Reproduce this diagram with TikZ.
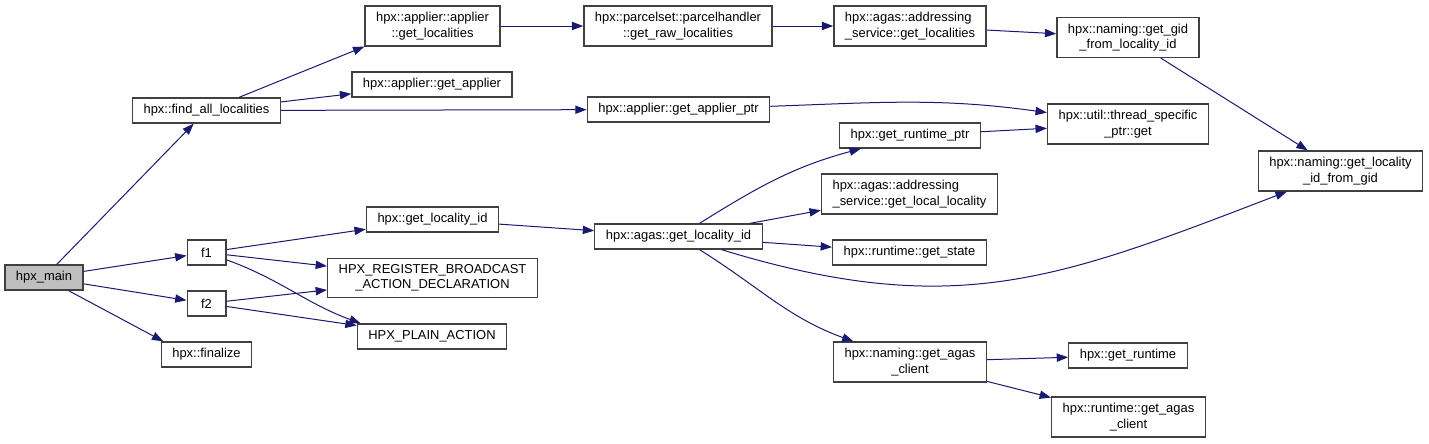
\documentclass[tikz,border=0pt]{standalone}
\usepackage{fontspec}
\setmainfont{Liberation Sans}
\usepackage{xcolor}
\usepackage{tikz}
\usetikzlibrary{arrows.meta}

\definecolor{edgeblue}{RGB}{25,25,112}
\definecolor{boxline}{RGB}{64,64,64}
\definecolor{mainfill}{RGB}{191,191,191}

\tikzset{
  fn/.style={rectangle, draw=boxline, line width=1pt, fill=white, align=center,
    inner xsep=8.3pt, inner ysep=4.7pt, minimum height=18.75pt, minimum width=29pt,
    font=\fontsize{9.7}{11.5}\selectfont},
  call/.style={draw=edgeblue, line width=0.75pt, -{Triangle[length=8.5pt,width=6.2pt]}}
}

\begin{document}
\begin{tikzpicture}[x=0.75pt,y=-0.75pt]
\useasboundingbox (0,0) rectangle (1429,443);

\node[fn, fill=mainfill](main) at (44,277.5) {hpx\_main};
\node[fn](fal) at (206.5,110.5) {hpx::find\_all\_localities};
\node[fn](f1) at (206.5,252.5) {f1};
\node[fn](f2) at (206.5,303.5) {f2};
\node[fn](fin) at (206.5,354.5) {hpx::finalize};

\node[fn](agl) at (432.5,26) {hpx::applier::applier\\::get\_localities};
\node[fn](gap) at (432,84.5) {hpx::applier::get\_applier};
\node[fn](gli) at (432.5,219.5) {hpx::get\_locality\_id};
\node[fn](reg) at (432.5,278) {HPX\_REGISTER\_BROADCAST\\\_ACTION\_DECLARATION};
\node[fn](plain) at (432,336.5) {HPX\_PLAIN\_ACTION};

\node[fn](grl) at (678,26) {hpx::parcelset::parcelhandler\\::get\_raw\_localities};
\node[fn](gptr) at (678.5,109.5) {hpx::applier::get\_applier\_ptr};
\node[fn](agli) at (678.5,236.5) {hpx::agas::get\_locality\_id};

\node[fn, align=left](asgl) at (910,26) {hpx::agas::addressing\\\_service::get\_localities};
\node[fn](grp) at (910,135.5) {hpx::get\_runtime\_ptr};
\node[fn, align=left](gll) at (909.5,194) {hpx::agas::addressing\\\_service::get\_local\_locality};
\node[fn](gst) at (909.5,252.5) {hpx::runtime::get\_state};
\node[fn](gac) at (910,362) {hpx::naming::get\_agas\\\_client};

\node[fn](ggid) at (1128,37.5) {hpx::naming::get\_gid\\\_from\_locality\_id};
\node[fn](tsp) at (1128,124) {hpx::util::thread\_specific\\\_ptr::get};
\node[fn](grt) at (1128,355.5) {hpx::get\_runtime};
\node[fn](rac) at (1128.5,417) {hpx::runtime::get\_agas\\\_client};
\node[fn](lgid) at (1340.5,171) {hpx::naming::get\_locality\\\_id\_from\_gid};

% straight calls
\foreach \a/\b in {main/fal, main/f1, main/f2, fal/gap, fal/gptr, agl/grl, grl/asgl,
    asgl/ggid, ggid/lgid, grp/tsp, f1/gli, f1/reg, f2/reg, f2/plain, gli/agli,
    agli/gll, agli/gst, gac/grt, gac/rac}
	\draw[call] (\a) -- (\b);
\draw[call] (main) -- ([xshift=2pt]fin.north west);
\draw[call] (fal) -- (agl.south west);

% bent calls
\draw[call] (gptr) to[out=2, in=172] (tsp);
\draw[call] (f1) to[out=-20, in=160] ([xshift=3pt]plain.north west);
\draw[call] (agli) to[out=32, in=195] (grp);
\draw[call] (agli) to[out=-17, in=201, looseness=1.1] (lgid);
\draw[call] (agli) to[out=-32, in=160] (gac);
\end{tikzpicture}
\end{document}
